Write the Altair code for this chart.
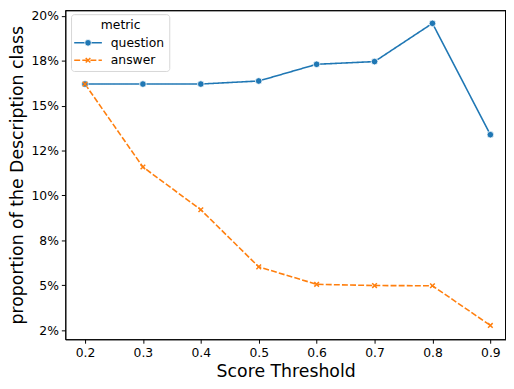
import altair as alt
import pandas as pd

thresholds = [0.2, 0.3, 0.4, 0.5, 0.6, 0.7, 0.8, 0.9]
question = [0.162, 0.162, 0.162, 0.1637, 0.173, 0.1745, 0.1958, 0.1338]
answer = [0.162, 0.1158, 0.092, 0.0602, 0.0505, 0.0498, 0.0497, 0.0276]
metrics = ["question", "answer"]
colors = ["#1f77b4", "#ff7f0e"]
y_ticks = [0.025, 0.05, 0.075, 0.1, 0.125, 0.15, 0.175, 0.2]
y_labels = ["2%", "5%", "8%", "10%", "12%", "15%", "18%", "20%"]
x_ticks = thresholds

rows = []
for t, q, a in zip(thresholds, question, answer):
    rows.append({"x": t, "v": q, "metric": "question"})
    rows.append({"x": t, "v": a, "metric": "answer"})
df = pd.DataFrame(rows)

FONT = "DejaVu Sans"
LBL = 12.5
TTL = 17.5
W, H = 446, 333
label_expr = "[" + ",".join(f"'{l}'" for l in y_labels) + "][round(datum.value/0.025)-1]"

xs = alt.X("x:Q", scale=alt.Scale(domain=[0.166, 0.927], nice=False, zero=False),
           axis=alt.Axis(values=x_ticks, format=".1f", title="Score Threshold", grid=False,
                         tickColor="black", domainColor="black", labelColor="black",
                         tickSize=4, labelFontSize=LBL, titleFontSize=TTL, titleFontWeight="normal",
                         labelPadding=3, titlePadding=4, labelFont=FONT, titleFont=FONT,
                         titleColor="black", labelFlush=False))
ys = alt.Y("v:Q", scale=alt.Scale(domain=[0.0199, 0.2031], nice=False, zero=False),
           axis=alt.Axis(values=y_ticks, labelExpr=label_expr, title="proportion of the Description class",
                         grid=False, tickColor="black", domainColor="black", labelColor="black",
                         tickSize=4, labelFontSize=LBL, titleFontSize=TTL, titleFontWeight="normal",
                         labelPadding=3, titlePadding=5, labelFont=FONT, titleFont=FONT,
                         titleColor="black", labelFlush=False))

color = alt.Color("metric:N", scale=alt.Scale(domain=metrics, range=colors), legend=None)
dash = alt.StrokeDash("metric:N", scale=alt.Scale(domain=metrics, range=[[1, 0], [6, 2.2]]), legend=None)

lines = alt.Chart(df).mark_line(strokeWidth=1.6).encode(x=xs, y=ys, color=color, strokeDash=dash)

qpts = alt.Chart(df).transform_filter(alt.datum.metric == "question").mark_point(
    shape="circle", filled=True, size=45, fill=colors[0], stroke="white", strokeWidth=0.8, opacity=1
).encode(x=xs, y=ys)

XPATH = "M-1,-1L1,1M-1,1L1,-1"
apts = alt.Chart(df).transform_filter(alt.datum.metric == "answer").mark_point(
    shape=XPATH, filled=False, size=22, stroke=colors[1], strokeWidth=1.5, opacity=1
).encode(x=xs, y=ys)

one = pd.DataFrame({"k": [0]})
base = alt.Chart(one)
top_spine = base.mark_rule(color="black", strokeWidth=1).encode(
    x=alt.value(0), x2=alt.value(W), y=alt.value(0.5))
right_spine = base.mark_rule(color="black", strokeWidth=1).encode(
    x=alt.value(W - 0.5), y=alt.value(0), y2=alt.value(H))
leg_box = base.mark_rect(fill="white", opacity=0.85, stroke="#d0d0d0", strokeWidth=1, cornerRadius=3).encode(
    x=alt.value(6.3), x2=alt.value(105.7), y=alt.value(4.5), y2=alt.value(62))
leg_title = base.mark_text(text="metric", font=FONT, fontSize=LBL, align="center", baseline="middle", color="black").encode(
    x=alt.value(56), y=alt.value(14.5))
leg_layers = [leg_box, leg_title]
for i, (m, c) in enumerate(zip(metrics, colors)):
    yy = 33 + 17.6 * i
    leg_layers.append(base.mark_rule(color=c, strokeWidth=1.6, strokeDash=[1, 0] if i == 0 else [6, 2.2]).encode(
        x=alt.value(9), x2=alt.value(37), y=alt.value(yy)))
    if i == 0:
        leg_layers.append(base.mark_point(shape="circle", filled=True, size=45, fill=c, stroke="white",
                                          strokeWidth=0.8, opacity=1).encode(x=alt.value(23), y=alt.value(yy)))
    else:
        leg_layers.append(base.mark_point(shape=XPATH, filled=False, size=22, stroke=c, strokeWidth=1.5,
                                          opacity=1).encode(x=alt.value(23), y=alt.value(yy)))
    leg_layers.append(base.mark_text(text=m, font=FONT, fontSize=LBL, align="left", baseline="middle", color="black").encode(
        x=alt.value(46), y=alt.value(yy)))

chart = alt.layer(lines, qpts, apts, top_spine, right_spine, *leg_layers).properties(
    width=W, height=H,
    background="white",
    autosize=alt.AutoSizeParams(type="none"),
    padding={"left": 58, "top": 0, "right": 0, "bottom": 40},
).configure_view(stroke="black", strokeWidth=1)

chart.save("out.html", embed_options={"renderer": "svg", "actions": False})
